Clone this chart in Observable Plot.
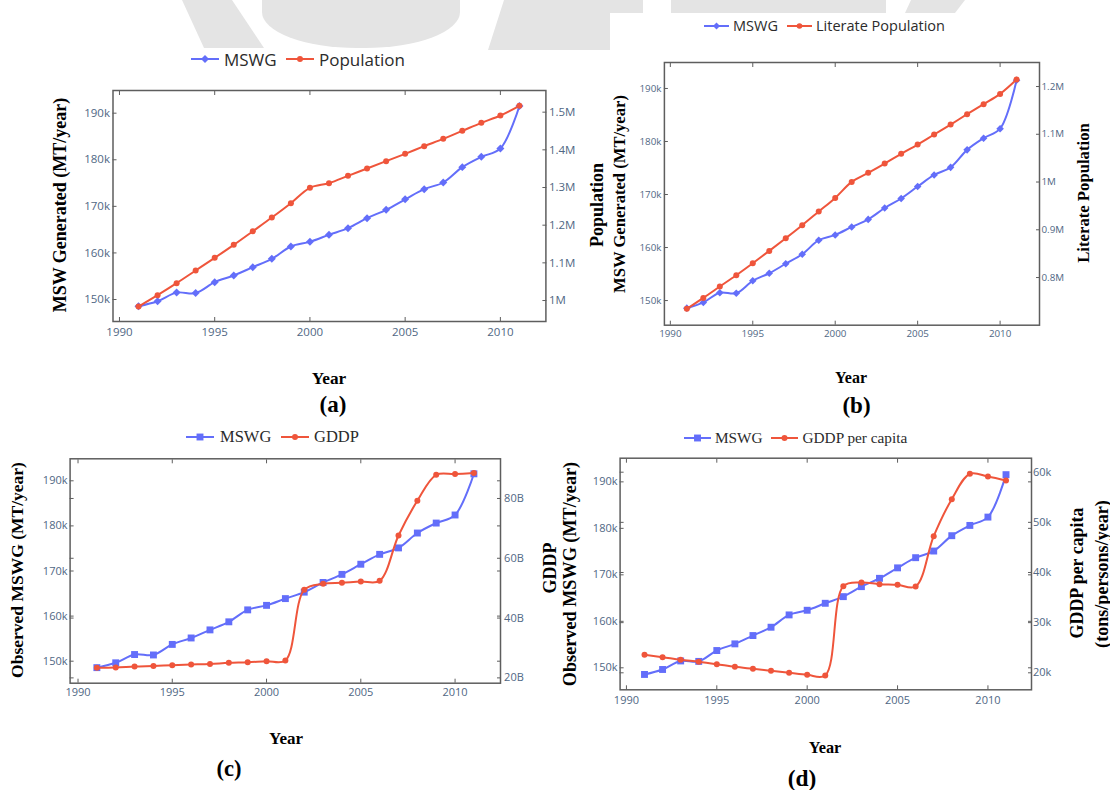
<!DOCTYPE html>
<html>
<head>
<meta charset="utf-8">
<script src="https://cdn.jsdelivr.net/npm/d3@7"></script>
<script src="https://cdn.jsdelivr.net/npm/@observablehq/plot@0.6"></script>
<style>
  html, body { margin: 0; padding: 0; background: #fff; }
  body { width: 1110px; height: 790px; position: relative; overflow: hidden; font-family: "Open Sans", sans-serif; }
  .wm { position: absolute; background: #e4e4e4; }
  .ttl { position: absolute; font-family: "Liberation Serif", "Times New Roman", serif; font-weight: bold; color: #000; white-space: nowrap; line-height: 1; }
  .rot { transform: translate(-50%, -50%) rotate(-90deg); }
  .ctr { transform: translate(-50%, -50%); }
  .lg { position: absolute; white-space: nowrap; line-height: 1; transform: translateY(-50%); }
</style>
</head>
<body>
<div id="bg"></div>
<div id="charts"></div>
<div id="texts"></div>
<script>
// ---------------- data ----------------
const years = [1991, 1992, 1993, 1994, 1995, 1996, 1997, 1998, 1999, 2000, 2001, 2002, 2003, 2004, 2005, 2006, 2007, 2008, 2009, 2010, 2011];
const mswg = [148570, 149640, 151480, 151380, 153720, 155150, 156940, 158730, 161380, 162380, 163880, 165310, 167460, 169250, 171500, 173690, 175120, 178420, 180630, 182420, 191550];
const population = [984000, 1014200, 1046000, 1079600, 1113300, 1147800, 1184000, 1220400, 1258400, 1299100, 1311500, 1331000, 1350400, 1369900, 1389400, 1409700, 1429200, 1450400, 1471700, 1491200, 1516800];
const literatePopulation = [734400, 757400, 781200, 804900, 830000, 855800, 882400, 909600, 938200, 966800, 1000300, 1019200, 1038700, 1059000, 1078500, 1099500, 1120400, 1142000, 1163000, 1184600, 1214700];
const gddp = [23.35e9, 23.46e9, 23.79e9, 24.0e9, 24.24e9, 24.46e9, 24.68e9, 25.02e9, 25.24e9, 25.58e9, 25.8e9, 49.45e9, 51.45e9, 51.79e9, 52.24e9, 52.46e9, 67.63e9, 79.23e9, 87.93e9, 88.16e9, 88.49e9];
const gddpPerCapita = [23590, 23120, 22600, 22200, 21720, 21200, 20800, 20400, 20010, 19610, 19470, 37280, 38010, 37670, 37540, 37210, 47240, 54620, 59670, 59130, 58330];

const yearTicks = [1990, 1995, 2000, 2005, 2010];
const mswgTicks = [150000, 160000, 170000, 180000, 190000];
const populationTicks = [1000000, 1100000, 1200000, 1300000, 1400000, 1500000];
const literateTicks = [800000, 900000, 1000000, 1100000, 1200000];
const gddpTicks = [20e9, 40e9, 60e9, 80e9];
const gddpPerCapitaTicks = [20000, 30000, 40000, 50000, 60000];

const blue = "#636efa", red = "#ef553b";
const tickColor = "#506784", frameColor = "#5e5e5e";

// ---------------- watermark background ----------------
const bg = document.getElementById("bg");
function wm(style) { const d = document.createElement("div"); d.className = "wm"; Object.assign(d.style, style); bg.appendChild(d); }
wm({left: "180px", top: "0px", width: "90px", height: "48px", clipPath: "polygon(2px 0, 52px 0, 84px 48px, 24px 48px)"});
wm({left: "262px", top: "0px", width: "198px", height: "48px", borderRadius: "0 0 95px 95px / 0 0 36px 36px"});
wm({left: "488px", top: "0px", width: "155px", height: "50px", clipPath: "polygon(16px 0, 155px 0, 155px 13px, 122px 13px, 122px 50px, 0 50px)"});
wm({left: "671px", top: "0px", width: "215px", height: "13px"});
wm({left: "905px", top: "0px", width: "60px", height: "13px", clipPath: "polygon(6px 0, 60px 0, 50px 13px, 0 13px)"});

// ---------------- panels ----------------
const charts = document.getElementById("charts");
function panel(cfg) {
  const toLeft = d3.scaleLinear().domain(cfg.rightDomain).range(cfg.leftDomain);
  const rows = years.map((year, i) => ({year, msw: mswg[i], other: toLeft(cfg.other[i])}));
  const rMapped = cfg.rightTicks.map(v => toLeft(v));
  const rLabel = new Map(rMapped.map((m, i) => [m, cfg.rightFmt(cfg.rightTicks[i])]));
  const [fx0, fy0, fx1, fy1] = cfg.frame;
  const [L, T, W, H] = cfg.box;
  const ts = 4;
  const marks = [
    Plot.axisX(yearTicks, {anchor: "bottom", tickSize: -ts, tickPadding: cfg.xPad + ts, tickFormat: d => String(d), label: null, stroke: frameColor, fill: tickColor}),
    Plot.axisX(yearTicks, {anchor: "top", tickSize: -ts, tickPadding: 0, tickFormat: () => "", label: null, stroke: frameColor}),
    Plot.axisY(mswgTicks, {anchor: "left", tickSize: -ts, tickPadding: cfg.lPad + ts, tickFormat: d => (d / 1000) + "k", label: null, stroke: frameColor, fill: tickColor}),
    Plot.axisY(rMapped, {anchor: "right", tickSize: -ts, tickPadding: cfg.rPad + ts, tickFormat: d => rLabel.get(d), label: null, stroke: frameColor, fill: tickColor})
  ];
  if (cfg.mirror) {
    marks.push(
      Plot.axisY(mswgTicks, {anchor: "right", tickSize: -ts, tickPadding: 0, tickFormat: () => "", label: null, stroke: frameColor}),
      Plot.axisY(rMapped, {anchor: "left", tickSize: -ts, tickPadding: 0, tickFormat: () => "", label: null, stroke: frameColor})
    );
  }
  marks.push(
    Plot.frame({stroke: frameColor, strokeWidth: 1.5}),
    Plot.line(rows, {x: "year", y: "msw", stroke: blue, strokeWidth: 2, curve: "catmull-rom"}),
    Plot.dot(rows, {x: "year", y: "msw", symbol: cfg.symbol, r: cfg.symR, fill: blue, stroke: "none"}),
    Plot.line(rows, {x: "year", y: "other", stroke: red, strokeWidth: 2, curve: "catmull-rom"}),
    Plot.dot(rows, {x: "year", y: "other", symbol: "circle", r: 3, fill: red, stroke: "none"})
  );
  const svg = Plot.plot({
    width: W, height: H,
    marginLeft: fx0 - L, marginRight: L + W - fx1, marginTop: fy0 - T, marginBottom: T + H - fy1,
    x: {domain: cfg.xDomain},
    y: {domain: cfg.leftDomain},
    style: {background: "transparent", overflow: "visible", fontFamily: "'Open Sans', sans-serif", fontSize: cfg.fontSize + "px", maxWidth: "none"},
    marks
  });
  svg.style.position = "absolute";
  svg.style.left = L + "px";
  svg.style.top = T + "px";
  charts.appendChild(svg);
}

const fmtM = d => (d / 1e6) + "M";
panel({box: [40, 75, 560, 280], frame: [112.5, 90, 545.4, 321], xDomain: [1989.66, 2012.39],
  leftDomain: [145280, 194870], rightDomain: [944300, 1557500], other: population,
  rightTicks: populationTicks, rightFmt: fmtM, symbol: "diamond2", symR: 3.6, fontSize: 11.5,
  xPad: 6, lPad: 3, rPad: 3, mirror: false});
panel({box: [610, 50, 480, 300], frame: [663.9, 62, 1039, 324.7], xDomain: [1989.64, 2012.39],
  leftDomain: [145350, 194900], rightDomain: [700200, 1250300], other: literatePopulation,
  rightTicks: literateTicks, rightFmt: fmtM, symbol: "diamond2", symR: 3.4, fontSize: 9.8,
  xPad: 5, lPad: 3, rPad: 2, mirror: false});
panel({box: [20, 445, 540, 265], frame: [69.6, 458.3, 500, 682.7], xDomain: [1989.58, 2012.41],
  leftDomain: [145120, 194880], rightDomain: [18.22e9, 93.27e9], other: gddp,
  rightTicks: gddpTicks, rightFmt: d => (d / 1e9) + "B", symbol: "square", symR: 3.9, fontSize: 11,
  xPad: 5, lPad: 2.6, rPad: 3.6, mirror: true});
panel({box: [570, 445, 510, 270], frame: [619.6, 457.7, 1031, 689.3], xDomain: [1989.65, 2012.41],
  leftDomain: [145270, 195090], rightDomain: [16610, 62790], other: gddpPerCapita,
  rightTicks: gddpPerCapitaTicks, rightFmt: d => (d / 1000) + "k", symbol: "square", symR: 3.9, fontSize: 11,
  xPad: 6, lPad: 2.6, rPad: 1.5, mirror: true});

// ---------------- texts ----------------
const texts = document.getElementById("texts");
function title(txt, x, y, size, rotate) {
  const d = document.createElement("div");
  d.className = "ttl " + (rotate ? "rot" : "ctr");
  d.textContent = txt;
  d.style.left = x + "px"; d.style.top = y + "px"; d.style.fontSize = size + "px";
  texts.appendChild(d);
}
title("MSW Generated (MT/year)", 60, 205, 18, true);
title("Year", 329, 379, 17.3, false);
title("(a)", 333, 404, 23, false);
title("Population", 597, 205, 18, true);
title("MSW Generated (MT/year)", 620, 194, 16.6, true);
title("Literate Population", 1084, 193, 16.7, true);
title("Year", 851, 378, 16, false);
title("(b)", 856.5, 405, 23, false);
title("Observed MSWG (MT/year)", 18, 570, 17.5, true);
title("GDDP", 550, 568, 18, true);
title("Year", 286, 738, 17, false);
title("(c)", 229, 769, 22.5, false);
title("Observed MSWG (MT/year)", 570, 574, 18.2, true);
title("GDDP per capita", 1078, 573, 17.9, true);
title("(tons/persons/year)", 1102, 574, 18.1, true);
title("Year", 825, 748, 16.3, false);
title("(d)", 802, 779, 23.4, false);

// ---------------- legends ----------------
const symMap = {diamond2: d3.symbolDiamond2, square: d3.symbolSquare, circle: d3.symbolCircle};
function legendItem(x0, x1, y, color, sym, r, label, tx, font, size) {
  const w = x1 - x0;
  const s = d3.create("svg").attr("width", w).attr("height", 16)
    .style("position", "absolute").style("left", x0 + "px").style("top", (y - 8) + "px");
  s.append("line").attr("x1", 0).attr("x2", w).attr("y1", 8).attr("y2", 8).attr("stroke", color).attr("stroke-width", 2);
  s.append("path").attr("transform", `translate(${w / 2},8)`).attr("fill", color)
    .attr("d", d3.symbol(symMap[sym], Math.PI * r * r)());
  texts.appendChild(s.node());
  const t = document.createElement("div");
  t.className = "lg"; t.textContent = label;
  t.style.left = tx + "px"; t.style.top = y + "px";
  t.style.fontFamily = font; t.style.fontSize = size + "px"; t.style.color = "#2b2b2b";
  texts.appendChild(t);
}
const sans = "'Open Sans', sans-serif", serif = "'Liberation Serif', 'Times New Roman', serif";
legendItem(191, 219, 59, blue, "diamond2", 3.6, "MSWG", 224, sans, 17);
legendItem(286, 314, 59, red, "circle", 3, "Population", 319, sans, 17);
legendItem(704, 729, 26, blue, "diamond2", 3.2, "MSWG", 733, sans, 14.5);
legendItem(787, 812, 26, red, "circle", 2.8, "Literate Population", 816, sans, 14.5);
legendItem(186, 214, 437, blue, "square", 3.9, "MSWG", 220, serif, 16.5);
legendItem(281, 309, 437, red, "circle", 3, "GDDP", 314, serif, 16.5);
legendItem(684, 711, 438, blue, "square", 3.9, "MSWG", 715, serif, 15.3);
legendItem(771, 798, 438, red, "circle", 3, "GDDP per capita", 802.5, serif, 15.3);
</script>
</body>
</html>
